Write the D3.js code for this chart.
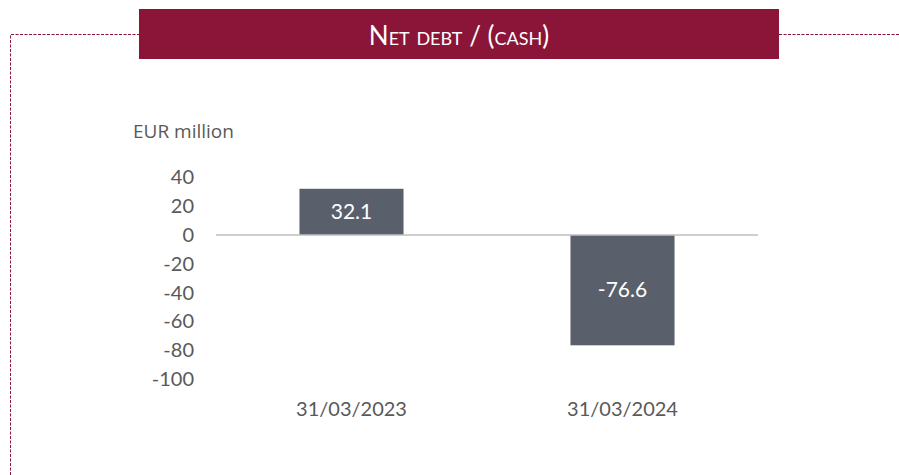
<!DOCTYPE html>
<html>
<head>
<meta charset="utf-8">
<script src="https://cdn.jsdelivr.net/npm/d3@7"></script>
<style>
  body { margin: 0; background: #fff; }
  svg { display: block; }
  .tick text { font-family: Lato, "Open Sans", sans-serif; fill: #595959; }
</style>
</head>
<body>
<div id="chart"></div>
<script>
let categories = ["31/03/2023", "31/03/2024"];
let values = [32.1, -76.6];
let yTicks = [40, 20, 0, -20, -40, -60, -80, -100];

let W = 899, H = 475;
let maroon = "#8a1538";

let svg = d3.select("#chart").append("svg")
    .attr("width", W)
    .attr("height", H);

// dashed frame
svg.append("path")
    .attr("d", "M10.5,475 V34.5 H139 M779,34.5 H899")
    .attr("fill", "none")
    .attr("stroke", maroon)
    .attr("stroke-width", 1)
    .attr("stroke-dasharray", "3,1.5");

// title banner
svg.append("rect")
    .attr("x", 139).attr("y", 9)
    .attr("width", 640).attr("height", 50)
    .attr("fill", maroon);

svg.append("text")
    .attr("x", 459).attr("y", 45)
    .attr("text-anchor", "middle")
    .attr("fill", "#fff")
    .style("font-family", "Lato, 'Open Sans', sans-serif")
    .style("font-size", "26px")
    .style("font-variant", "small-caps")
    .text("Net debt / (cash)");

svg.append("text")
    .attr("x", 133).attr("y", 138)
    .attr("fill", "#595959")
    .style("font-family", "'Open Sans', sans-serif")
    .style("font-size", "19px")
    .text("EUR million");

let x = d3.scaleBand()
    .domain(categories)
    .range([216, 758])
    .paddingInner(0.616)
    .paddingOuter(0.308);

let y = d3.scaleLinear()
    .domain([-100, 40])
    .range([379, 177.4]);

// y axis labels only (plain hyphen for negatives)
let yAxis = d3.axisLeft(y).tickValues(yTicks).tickFormat(d => String(d)).tickSize(0).tickPadding(0);
let yg = svg.append("g")
    .attr("transform", "translate(194,0)")
    .call(yAxis);
yg.select(".domain").remove();
yg.selectAll("text").style("font-size", "20px");

// bars
svg.selectAll(".bar")
    .data(values)
    .enter()
    .append("rect")
    .attr("class", "bar")
    .attr("x", (d, i) => x(categories[i]))
    .attr("width", x.bandwidth())
    .attr("y", d => y(Math.max(0, d)))
    .attr("height", d => Math.abs(y(d) - y(0)))
    .attr("fill", "#5a606b");

// zero line
svg.append("line")
    .attr("x1", 216).attr("x2", 758)
    .attr("y1", y(0)).attr("y2", y(0))
    .attr("stroke", "#bfbfbf")
    .attr("stroke-width", 1.5);

// value labels
svg.selectAll(".val")
    .data(values)
    .enter()
    .append("text")
    .attr("class", "val")
    .attr("x", (d, i) => x(categories[i]) + x.bandwidth() / 2)
    .attr("y", d => (y(d) + y(0)) / 2 + 7)
    .attr("text-anchor", "middle")
    .attr("fill", "#fff")
    .style("font-family", "Lato, 'Open Sans', sans-serif")
    .style("font-size", "21px")
    .text(d => d.toFixed(1));

// x axis labels
let xAxis = d3.axisBottom(x).tickSize(0).tickPadding(0);
let xg = svg.append("g")
    .attr("transform", "translate(0,402)")
    .call(xAxis);
xg.select(".domain").remove();
xg.selectAll("text").style("font-size", "20px");
</script>
</body>
</html>
